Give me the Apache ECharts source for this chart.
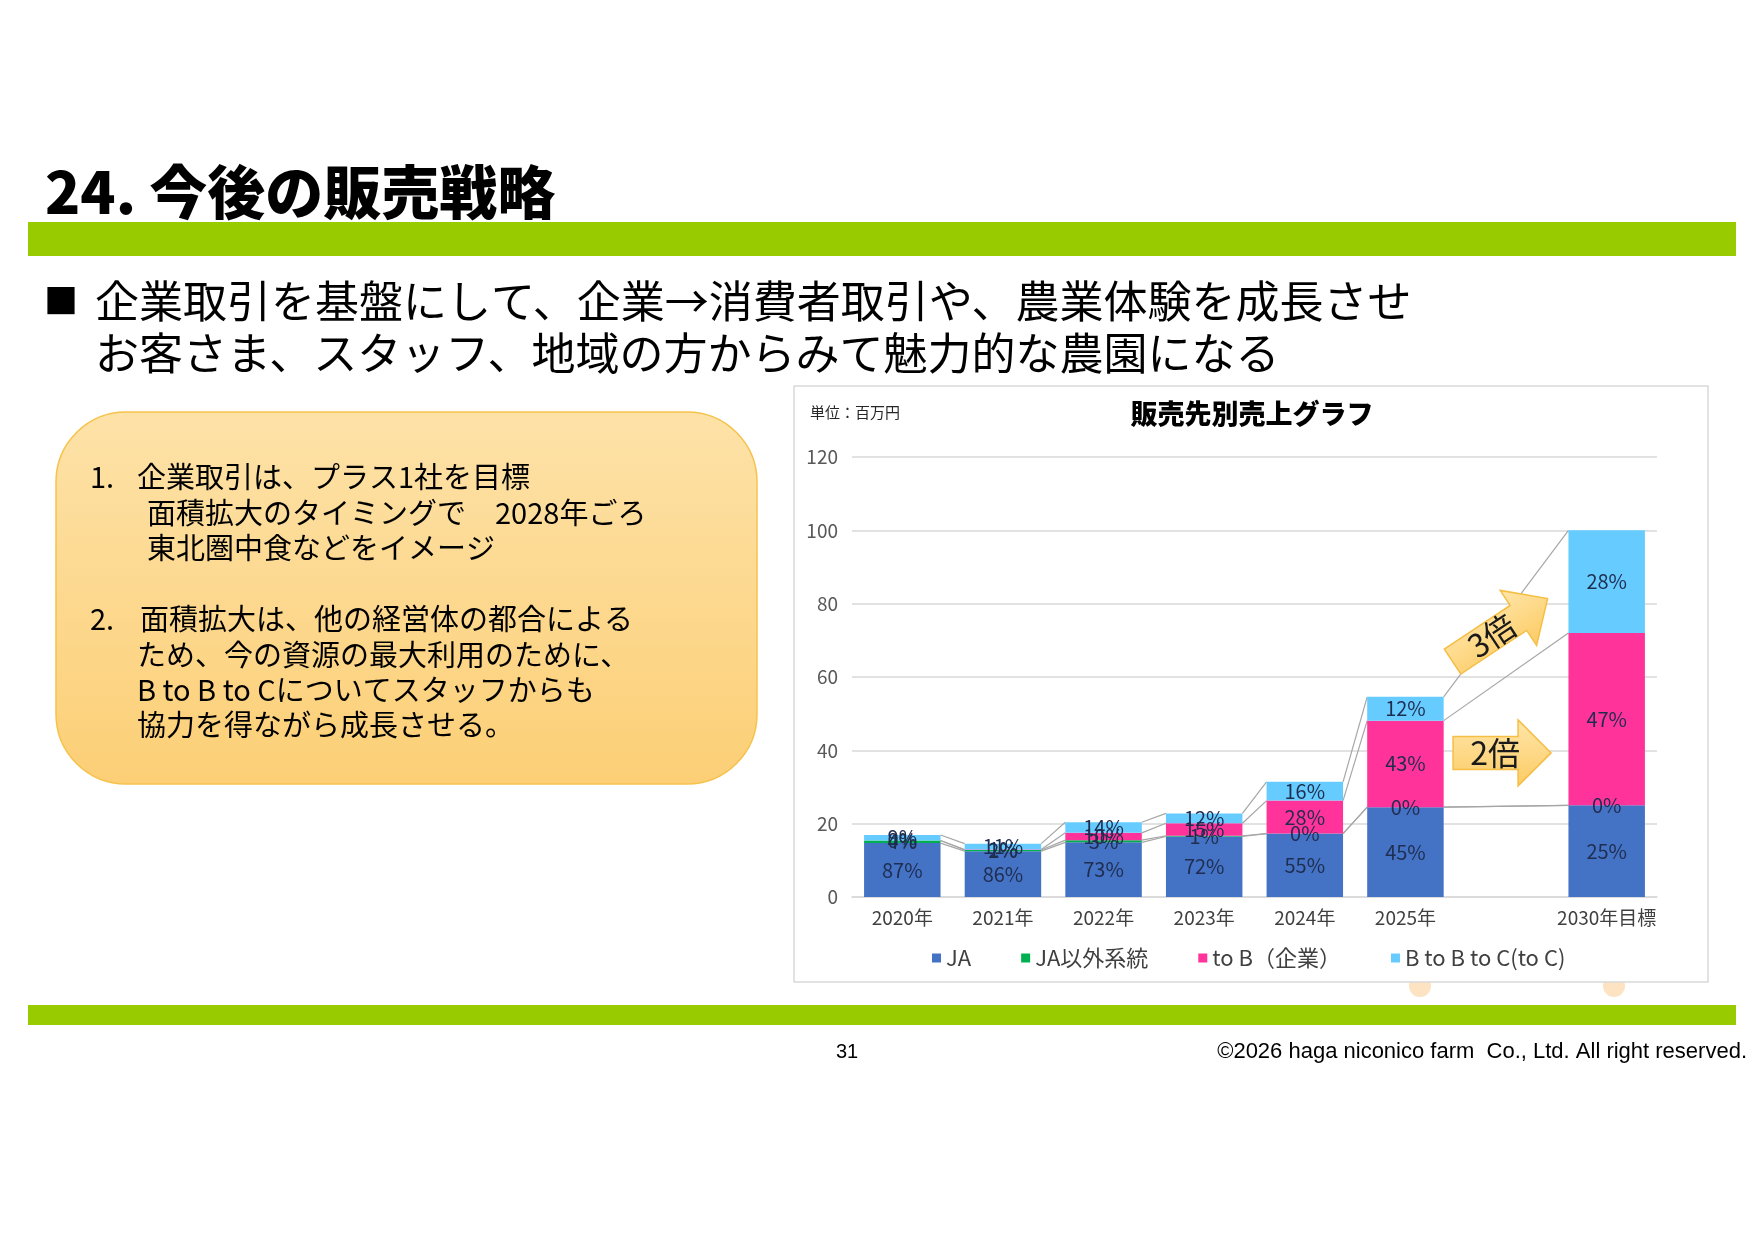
<!DOCTYPE html>
<html>
<head>
<meta charset="utf-8">
<script src="https://cdn.jsdelivr.net/npm/echarts@6/dist/echarts.min.js"></script>
<style>
html, body { margin: 0; padding: 0; background: #fff; }
#main { width: 1755px; height: 1241px; }
</style>
</head>
<body>
<div id="main"></div>
<script>
// カテゴリ（2026〜2029年は空欄）
const years = ['2020年', '2021年', '2022年', '2023年', '2024年', '2025年', '', '2030年目標'];
const seriesNames = ['JA', 'JA以外系統', 'to B（企業）', 'B to B to C(to C)'];
const colors = ['#4472C4', '#00B050', '#FF3399', '#66CCFF'];

// 売上（百万円）
const jaValues    = [14.7, 12.5, 14.9, 16.5, 17.3, 24.5, '-', 25];
const otherValues = [0.7, 0.3, 0.6, 0.2, 0, 0, '-', 0];
const toBValues   = [0, 0.15, 2.0, 3.4, 9.0, 23.6, '-', 47];
const toCValues   = [1.5, 1.6, 2.9, 2.7, 5.1, 6.5, '-', 28];

// ラベル（構成比 %）
const jaShares    = [87, 86, 73, 72, 55, 45, null, 25];
const otherShares = [4, 2, 3, 1, 0, 0, null, 0];
const toBShares   = [0, 1, 10, 15, 28, 43, null, 47];
const toCShares   = [9, 11, 14, 12, 16, 12, null, 28];

const yTicks = { min: 0, max: 120, interval: 20 };

const textLines = [
	'企業取引を基盤にして、企業→消費者取引や、農業体験を成長させ',
	'お客さま、スタッフ、地域の方からみて魅力的な農園になる'
];

const allValues = [jaValues, otherValues, toBValues, toCValues];
const allShares = [jaShares, otherShares, toBShares, toCShares];
const BAR_RATIO = 0.76;

const FONT = '"Noto Sans CJK JP", "Noto Sans", sans-serif';

// 系列線（Excelの区分線）用データ
const seriesLineData = [];
const filled = years.map((y, i) => i).filter(i => jaValues[i] !== '-');
for (let k = 0; k < allValues.length; k++) {
	const cum = filled.map(i => {
		let s = 0;
		for (let j = 0; j <= k; j++) s += allValues[j][i];
		return s;
	});
	for (let n = 0; n < filled.length - 1; n++) {
		seriesLineData.push([filled[n], filled[n + 1], cum[n], cum[n + 1]]);
	}
}

const chart = echarts.init(document.getElementById('main'));

const barSeries = seriesNames.map((name, idx) => ({
	name: name,
	type: 'bar',
	stack: 'total',
	barWidth: (BAR_RATIO * 100) + '%',
	data: allValues[idx],
	itemStyle: { color: colors[idx] },
	label: {
		show: true,
		position: 'inside',
		fontFamily: FONT,
		fontSize: 20,
		color: '#1F2D50',
		formatter: p => allShares[idx][p.dataIndex] == null ? '' : allShares[idx][p.dataIndex] + '%'
	},
	z: 3
}));

function textEl(text, x, y, size, opts) {
	return {
		type: 'text',
		z: 10,
		style: Object.assign({
			text: text, x: x, y: y,
			fontFamily: FONT, fontSize: size,
			fill: '#000', verticalAlign: 'middle', align: 'left'
		}, opts || {})
	};
}

const staticGraphics = [
	// タイトル
	textEl('24. 今後の販売戦略', 45, 192, 58, { fontWeight: 900 }),
	{ type: 'rect', z: 0, shape: { x: 28, y: 222, width: 1708, height: 34 }, style: { fill: '#99CC00' } },
	textEl('■', 44, 301, 34),
	textEl(textLines[0], 95, 301, 44),
	textEl(textLines[1], 95, 353, 44),
	// 左の吹き出し
	{
		type: 'rect', z: 0,
		shape: { x: 56, y: 412, width: 701, height: 372, r: 70 },
		style: {
			fill: new echarts.graphic.LinearGradient(0, 0, 0, 1, [
				{ offset: 0, color: '#FDE2A8' },
				{ offset: 1, color: '#FCCF76' }
			]),
			stroke: '#F6C24C', lineWidth: 1.5
		}
	},
	textEl('1.', 90, 477, 29),
	textEl('企業取引は、プラス1社を目標', 137, 477, 29),
	textEl('面積拡大のタイミングで　2028年ごろ', 147, 513, 29),
	textEl('東北圏中食などをイメージ', 147, 548, 29),
	textEl('2.', 90, 619, 29),
	textEl('面積拡大は、他の経営体の都合による', 140, 619, 29),
	textEl('ため、今の資源の最大利用のために、', 137, 655, 29),
	textEl('B to B to Cについてスタッフからも', 137, 690, 29),
	textEl('協力を得ながら成長させる。', 137, 725, 29),
	// グラフ枠
	{ type: 'circle', z: -3, shape: { cx: 1420, cy: 986, r: 11 }, style: { fill: '#FDE3C2' } },
	{ type: 'circle', z: -3, shape: { cx: 1614, cy: 986, r: 11 }, style: { fill: '#FDE3C2' } },
	{
		type: 'rect', z: -2,
		shape: { x: 794, y: 386, width: 914, height: 596 },
		style: { fill: '#fff', stroke: '#D9D9D9', lineWidth: 1.5 }
	},
	textEl('単位：百万円', 810, 412, 15, { fill: '#262626' }),
	textEl('販売先別売上グラフ', 1252, 414, 27, { fontWeight: 900, align: 'center' }),
	// フッター
	{ type: 'rect', z: 0, shape: { x: 28, y: 1005, width: 1708, height: 20 }, style: { fill: '#99CC00' } },
	textEl('31', 847, 1052, 20, { fontFamily: '"Liberation Sans", Arial, sans-serif', align: 'center' }),
	textEl('©2026 haga niconico farm  Co., Ltd. All right reserved.', 1747, 1052, 22,
		{ fontFamily: '"Liberation Sans", Arial, sans-serif', align: 'right' })
];

chart.setOption({
	animation: false,
	backgroundColor: '#fff',
	textStyle: { fontFamily: FONT },
	grid: { left: 852, right: 1755 - 1657, top: 457, bottom: 1241 - 897 },
	legend: {
		data: seriesNames,
		left: 927,
		top: 942,
		icon: 'rect',
		itemWidth: 9,
		itemHeight: 9,
		itemGap: 50,
		textStyle: { fontFamily: FONT, fontSize: 22, color: '#404040' }
	},
	xAxis: {
		type: 'category',
		data: years,
		axisTick: { show: false },
		axisLine: { lineStyle: { color: '#D9D9D9', width: 1.5 } },
		axisLabel: { fontFamily: FONT, fontSize: 19, color: '#404040', margin: 11, interval: 0 }
	},
	yAxis: {
		type: 'value',
		min: yTicks.min,
		max: yTicks.max,
		interval: yTicks.interval,
		axisLine: { show: false },
		axisTick: { show: false },
		splitLine: { lineStyle: { color: '#D9D9D9', width: 1.5 } },
		axisLabel: { fontFamily: FONT, fontSize: 19, color: '#595959', margin: 14 }
	},
	graphic: staticGraphics,
	series: barSeries.concat([{
		type: 'custom',
		silent: true,
		z: 2,
		encode: { x: [0, 1], y: [2, 3] },
		data: seriesLineData,
		renderItem: function (params, api) {
			const p1 = api.coord([api.value(0), api.value(2)]);
			const p2 = api.coord([api.value(1), api.value(3)]);
			const half = api.size([1, 0])[0] * BAR_RATIO / 2;
			return {
				type: 'line',
				shape: { x1: p1[0] + half, y1: p1[1], x2: p2[0] - half, y2: p2[1] },
				style: { stroke: '#A6A6A6', lineWidth: 1.2 }
			};
		}
	}])
});

// 矢印（2倍・3倍）
function arrowPoints(len, bodyHalf, headLen, headHalf) {
	const x0 = -len / 2, xh = len / 2 - headLen, x1 = len / 2;
	return [[x0, -bodyHalf], [xh, -bodyHalf], [xh, -headHalf], [x1, 0],
		[xh, headHalf], [xh, bodyHalf], [x0, bodyHalf]];
}
function arrowGroup(pos, angleDeg, len, bodyHalf, headLen, headHalf, label, textDx) {
	return {
		type: 'group',
		x: pos[0], y: pos[1],
		rotation: angleDeg * Math.PI / 180,
		z: 20,
		children: [{
			type: 'polygon',
			z: 20,
			shape: { points: arrowPoints(len, bodyHalf, headLen, headHalf) },
			style: {
				fill: new echarts.graphic.LinearGradient(0, 0, 0, 1, [
					{ offset: 0, color: '#FFE6AA' },
					{ offset: 1, color: '#FCCB64' }
				]),
				stroke: '#F5BE45', lineWidth: 1.5
			}
		}, {
			type: 'text',
			z: 21,
			style: {
				text: label, x: textDx, y: 0,
				fontFamily: FONT, fontSize: 32, fill: '#1A1A1A',
				align: 'center', verticalAlign: 'middle'
			}
		}]
	};
}
const p2x = chart.convertToPixel({ xAxisIndex: 0, yAxisIndex: 0 }, [6, 39.3]);
const p3x = chart.convertToPixel({ xAxisIndex: 0, yAxisIndex: 0 }, [6, 72.8]);
chart.setOption({
	graphic: staticGraphics.concat([
		arrowGroup([p2x[0] - 4, p2x[1]], 0, 98, 16.5, 33, 33, '2倍', -7),
		arrowGroup([p3x[0] - 6, p3x[1]], 33.5, 114, 15, 35, 33, '3倍', -10)
	])
});
</script>
</body>
</html>
